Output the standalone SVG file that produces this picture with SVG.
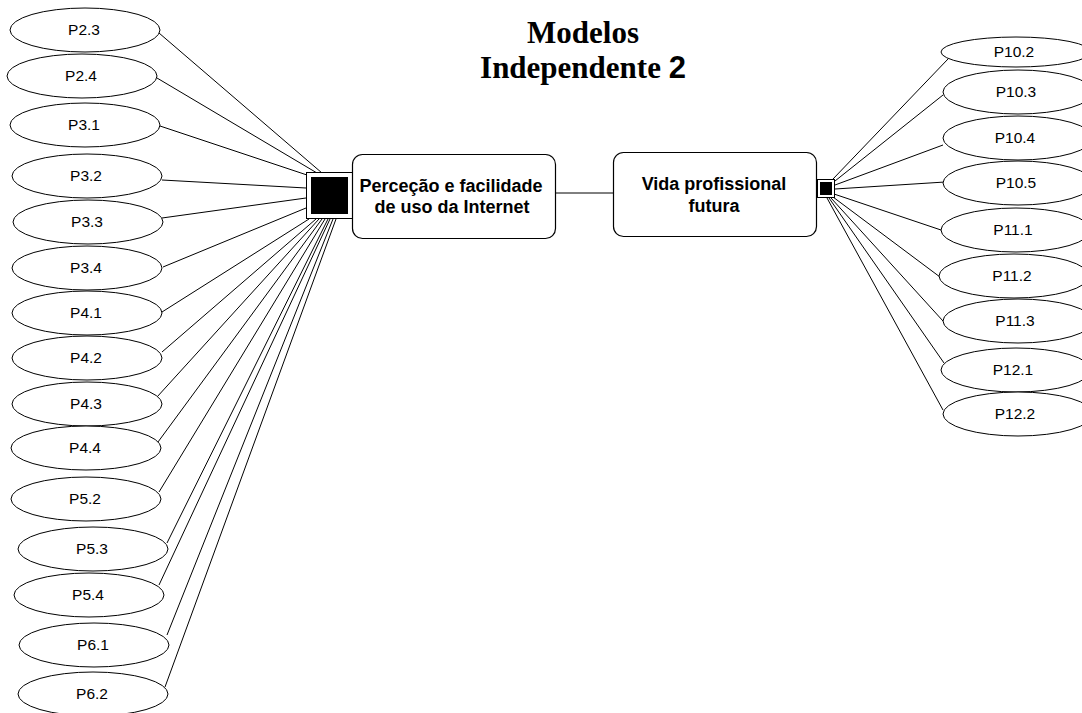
<svg xmlns="http://www.w3.org/2000/svg" width="1082" height="713" viewBox="0 0 1082 713">
<style>
.el{fill:#fff;stroke:#000;stroke-width:1}
.lb{font-family:"Liberation Sans",Arial,sans-serif;font-size:15.5px;text-anchor:middle;fill:#000}
.bx{fill:#fff;stroke:#000;stroke-width:1.2}
.bt{font-family:"Liberation Sans",Arial,sans-serif;font-size:18px;font-weight:bold;text-anchor:middle;fill:#000}
.ti{font-family:"Liberation Serif","Times New Roman",serif;font-size:31px;font-weight:bold;text-anchor:middle;fill:#000}
.cn line{stroke:#000;stroke-width:1}
.sq{fill:#fff;stroke:#000;stroke-width:1}
.sqi{fill:#000}
</style>
<rect width="1082" height="713" fill="#fff"/>
<g id="title">
<text class="ti" x="583" y="43">Modelos</text>
<text class="ti" x="583" y="78">Independente <tspan font-family="Liberation Sans,Arial,sans-serif">2</tspan></text>
</g>
<g class="cn" id="connectors">
<line x1="159" y1="33" x2="322" y2="173"/>
<line x1="157" y1="78" x2="317" y2="173"/>
<line x1="160" y1="126" x2="307" y2="175"/>
<line x1="162" y1="180" x2="306" y2="188"/>
<line x1="162" y1="218" x2="306" y2="198"/>
<line x1="163" y1="267" x2="306" y2="208"/>
<line x1="162" y1="312" x2="309" y2="219"/>
<line x1="162" y1="352" x2="316" y2="219"/>
<line x1="157" y1="397" x2="319" y2="219"/>
<line x1="158" y1="442" x2="322" y2="219"/>
<line x1="159" y1="492" x2="325" y2="219"/>
<line x1="167" y1="543" x2="328" y2="219"/>
<line x1="159" y1="585" x2="330" y2="219"/>
<line x1="167" y1="635" x2="333" y2="219"/>
<line x1="165" y1="687" x2="336" y2="219"/>
<line x1="556" y1="193" x2="613" y2="193"/>
<line x1="833" y1="179" x2="948" y2="59"/>
<line x1="835" y1="181" x2="943" y2="95"/>
<line x1="835" y1="185" x2="943" y2="145"/>
<line x1="835" y1="189" x2="945" y2="182"/>
<line x1="834" y1="194" x2="941" y2="230"/>
<line x1="833" y1="197" x2="940" y2="277"/>
<line x1="831" y1="198" x2="943" y2="321"/>
<line x1="829" y1="198" x2="944" y2="363"/>
<line x1="827" y1="198" x2="943" y2="410"/>
</g>
<g id="n-P2.3"><ellipse class="el" cx="85" cy="30" rx="75" ry="22"/><text class="lb" x="84" y="35">P2.3</text></g>
<g id="n-P2.4"><ellipse class="el" cx="82" cy="76" rx="75" ry="22"/><text class="lb" x="81" y="81">P2.4</text></g>
<g id="n-P3.1"><ellipse class="el" cx="85" cy="125" rx="75" ry="22"/><text class="lb" x="84" y="130">P3.1</text></g>
<g id="n-P3.2"><ellipse class="el" cx="87" cy="176" rx="75" ry="22"/><text class="lb" x="86" y="181">P3.2</text></g>
<g id="n-P3.3"><ellipse class="el" cx="88" cy="222" rx="75" ry="22"/><text class="lb" x="87" y="227">P3.3</text></g>
<g id="n-P3.4"><ellipse class="el" cx="87" cy="268" rx="75" ry="22"/><text class="lb" x="86" y="273">P3.4</text></g>
<g id="n-P4.1"><ellipse class="el" cx="87" cy="313" rx="75" ry="22"/><text class="lb" x="86" y="318">P4.1</text></g>
<g id="n-P4.2"><ellipse class="el" cx="87" cy="358" rx="75" ry="22"/><text class="lb" x="86" y="363">P4.2</text></g>
<g id="n-P4.3"><ellipse class="el" cx="87" cy="404" rx="75" ry="22"/><text class="lb" x="86" y="409">P4.3</text></g>
<g id="n-P4.4"><ellipse class="el" cx="86" cy="448" rx="75" ry="22"/><text class="lb" x="85" y="453">P4.4</text></g>
<g id="n-P5.2"><ellipse class="el" cx="86" cy="499" rx="75" ry="22"/><text class="lb" x="85" y="504">P5.2</text></g>
<g id="n-P5.3"><ellipse class="el" cx="93" cy="549" rx="75" ry="22"/><text class="lb" x="92" y="554">P5.3</text></g>
<g id="n-P5.4"><ellipse class="el" cx="89" cy="595" rx="75" ry="22"/><text class="lb" x="88" y="600">P5.4</text></g>
<g id="n-P6.1"><ellipse class="el" cx="94" cy="645" rx="75" ry="22"/><text class="lb" x="93" y="650">P6.1</text></g>
<g id="n-P6.2"><ellipse class="el" cx="93" cy="694" rx="75" ry="22"/><text class="lb" x="92" y="699">P6.2</text></g>
<g id="n-sq1"><rect class="sq" x="306.5" y="172.5" width="46" height="46"/><rect class="sqi" x="311" y="177" width="37" height="37"/></g>
<g id="n-perc"><rect class="bx" x="352.5" y="154.5" width="203" height="84" rx="10"/>
<text class="bt" x="451" y="192">Perceção e facilidade</text>
<text class="bt" x="452" y="213">de uso da Internet</text></g>
<g id="n-vida"><rect class="bx" x="613.5" y="152.5" width="203" height="84" rx="10"/>
<text class="bt" x="714" y="190">Vida profissional</text>
<text class="bt" x="714" y="212">futura</text></g>
<g id="n-sq2"><rect class="sq" x="817.5" y="179.5" width="17" height="18"/><rect class="sqi" x="820" y="182" width="12" height="13"/></g>
<g id="n-P10.2"><ellipse class="el" cx="1016" cy="52" rx="75" ry="15"/><text class="lb" x="1014" y="57">P10.2</text></g>
<g id="n-P10.3"><ellipse class="el" cx="1018" cy="92" rx="75" ry="22"/><text class="lb" x="1016" y="97">P10.3</text></g>
<g id="n-P10.4"><ellipse class="el" cx="1018" cy="138" rx="75" ry="22"/><text class="lb" x="1015" y="143">P10.4</text></g>
<g id="n-P10.5"><ellipse class="el" cx="1018" cy="183" rx="75" ry="22"/><text class="lb" x="1016" y="188">P10.5</text></g>
<g id="n-P11.1"><ellipse class="el" cx="1016" cy="230" rx="75" ry="22"/><text class="lb" x="1013" y="235">P11.1</text></g>
<g id="n-P11.2"><ellipse class="el" cx="1014" cy="276" rx="75" ry="22"/><text class="lb" x="1012" y="281">P11.2</text></g>
<g id="n-P11.3"><ellipse class="el" cx="1018" cy="321" rx="75" ry="22"/><text class="lb" x="1015" y="326">P11.3</text></g>
<g id="n-P12.1"><ellipse class="el" cx="1016" cy="370" rx="75" ry="22"/><text class="lb" x="1013" y="375">P12.1</text></g>
<g id="n-P12.2"><ellipse class="el" cx="1018" cy="414" rx="75" ry="22"/><text class="lb" x="1015" y="419">P12.2</text></g>
</svg>
